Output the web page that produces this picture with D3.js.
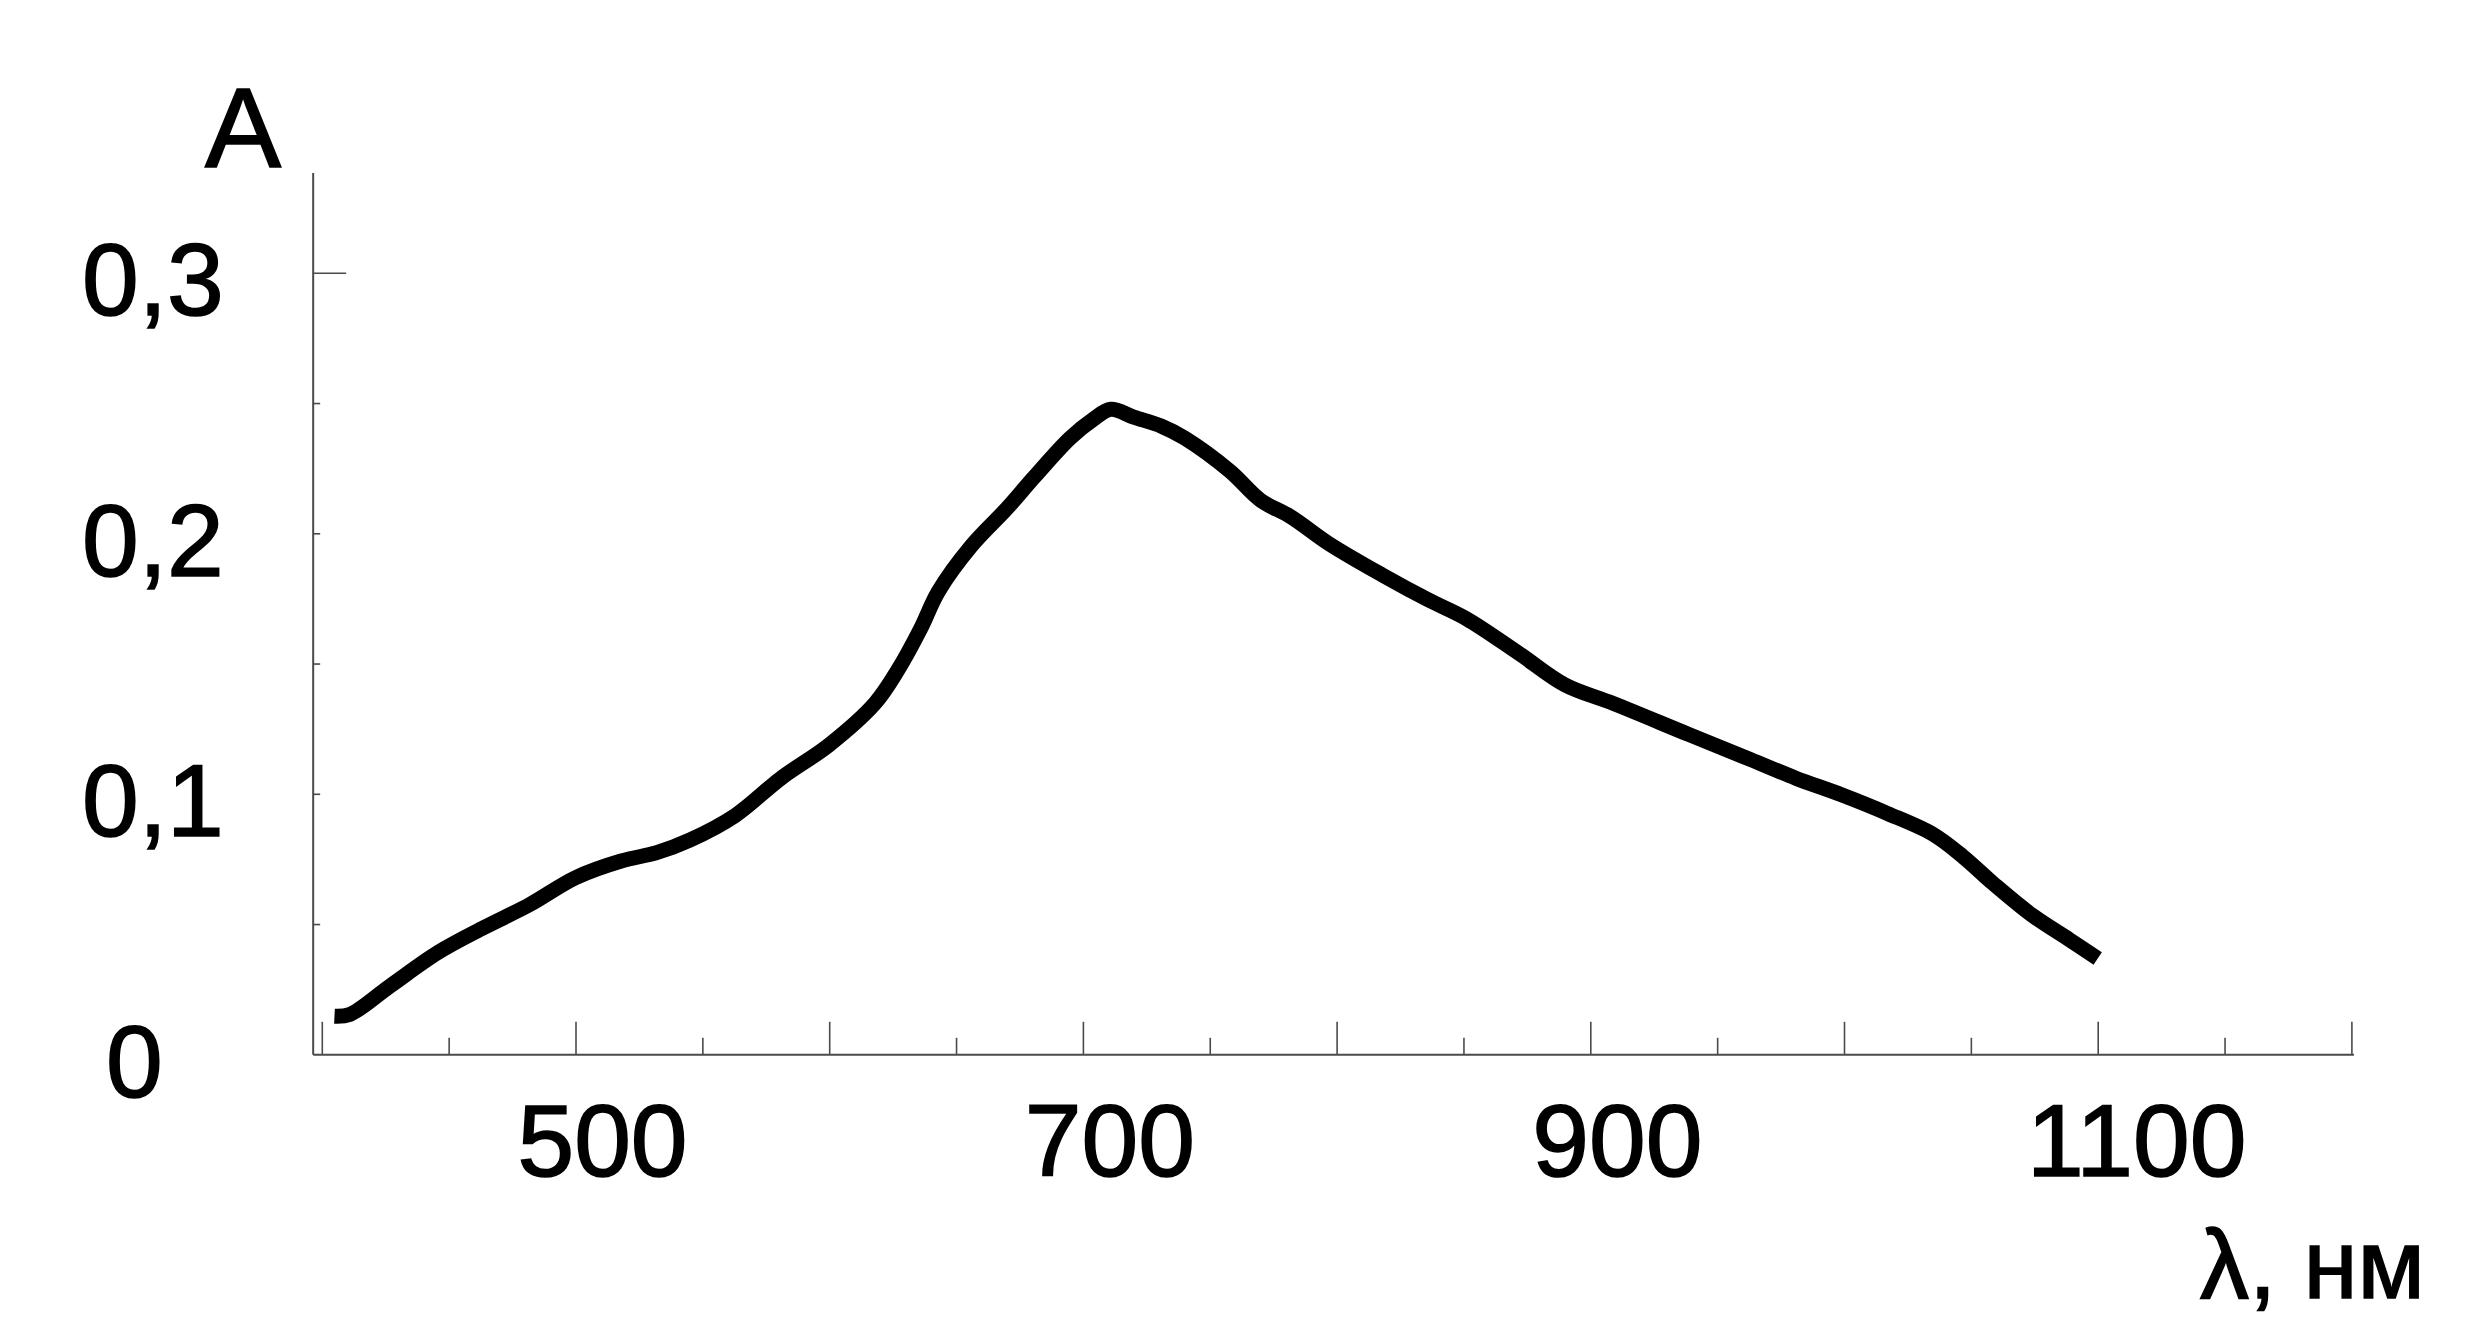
<!DOCTYPE html>
<html>
<head>
<meta charset="utf-8">
<script src="https://cdn.jsdelivr.net/npm/d3@7"></script>
<style>
  html, body { margin: 0; padding: 0; background: #fff; }
  svg { display: block; }
  text { font-family: "Liberation Sans", Arial, sans-serif; fill: #000; stroke: #000; stroke-width: 1.6px; }
</style>
</head>
<body>
<svg id="chart" width="2487" height="1337"></svg>
<script>
// ---- data ----
const wavelengths = [405, 411, 427, 446, 464, 482, 500, 518, 532, 545, 563, 581, 600, 618, 627, 636, 643, 656, 670, 681, 695, 704, 711, 720, 731, 740, 758, 770, 782, 797, 818, 836, 851, 872, 890, 909, 939, 963, 981, 999, 1017, 1035, 1047, 1059, 1074, 1089, 1100];
const absorbance  = [0.0148, 0.0155, 0.0265, 0.0394, 0.0489, 0.0577, 0.068, 0.0744, 0.0776, 0.0824, 0.0919, 0.1062, 0.119, 0.1349, 0.1476, 0.1635, 0.1778, 0.1953, 0.2097, 0.222, 0.2368, 0.2439, 0.2478, 0.2448, 0.2413, 0.2368, 0.224, 0.2129, 0.2065, 0.1962, 0.1842, 0.1747, 0.1675, 0.154, 0.142, 0.1349, 0.1229, 0.1134, 0.1062, 0.0998, 0.0927, 0.0847, 0.076, 0.0656, 0.0537, 0.0441, 0.037];
const xMajorTicks = [400, 500, 600, 700, 800, 900, 1000, 1100, 1200];
const xMinorTicks = [450, 550, 650, 750, 850, 950, 1050, 1150];
const xTickLabels = [500, 700, 900, 1100];
const yTicks = [0.05, 0.1, 0.15, 0.2, 0.25, 0.3];
const yTickLabels = [0, 0.1, 0.2, 0.3];
const xAxisTitle = "λ, нм";
const yAxisTitle = "A";

// ---- layout ----
const svg = d3.select("#chart");
const x = d3.scaleLinear().domain([500, 1200]).range([575.5, 2351.4]);
const y = d3.scaleLinear().domain([0, 0.3]).range([1054.8, 273.3]);
const xAxisDomain = [396.6, 1201];
const yAxisTop = 0.3385;
const axisColor = "#4a4a4a";
const fmt = v => v === 0 ? "0" : d3.format(".1f")(v).replace(".", ",");

// axis lines
svg.append("line")
  .attr("x1", x(xAxisDomain[0])).attr("x2", x(xAxisDomain[1]))
  .attr("y1", y(0)).attr("y2", y(0))
  .attr("stroke", axisColor).attr("stroke-width", 2);
svg.append("line")
  .attr("x1", x(xAxisDomain[0])).attr("x2", x(xAxisDomain[0]))
  .attr("y1", y(0)).attr("y2", y(yAxisTop))
  .attr("stroke", axisColor).attr("stroke-width", 2);

// x ticks (pointing up, inside)
const gx = svg.append("g").attr("transform", `translate(0,${y(0)})`);
gx.append("g").call(d3.axisBottom(x).tickValues(xMajorTicks).tickSizeInner(-33).tickSizeOuter(0).tickFormat(""));
gx.append("g").call(d3.axisBottom(x).tickValues(xMinorTicks).tickSizeInner(-17).tickSizeOuter(0).tickFormat(""));
gx.selectAll(".domain").remove();
gx.selectAll(".tick line").attr("stroke", axisColor).attr("stroke-width", 1.6);

// y ticks (pointing right, inside)
const gy = svg.append("g").attr("transform", `translate(${x(xAxisDomain[0])},0)`);
gy.selectAll("line.ytick").data(yTicks).enter().append("line")
  .attr("x1", 0).attr("x2", d => d === 0.3 ? 33 : 7)
  .attr("y1", d => y(d)).attr("y2", d => y(d))
  .attr("stroke", axisColor).attr("stroke-width", 1.6);

// x tick labels
svg.append("g").selectAll("text").data(xTickLabels).enter().append("text")
  .attr("x", d => x(d) + 27 + (String(d).length - 3) * 12)
  .attr("y", 1176)
  .attr("text-anchor", "middle")
  .attr("font-size", 102)
  .text(d => d);

// y tick labels
svg.append("g").selectAll("text").data(yTickLabels).enter().append("text")
  .attr("x", d => d === 0 ? 106 : 82)
  .attr("y", d => y(d) + 42)
  .attr("text-anchor", "start")
  .attr("font-size", 102)
  .text(fmt);

// axis titles
svg.append("text").attr("x", 205).attr("y", 167).attr("font-size", 114).text(yAxisTitle);
svg.append("text").attr("x", 2200).attr("y", 1298).attr("font-size", 98).text(xAxisTitle);

// curve
const line = d3.line()
  .x(d => x(d[0])).y(d => y(d[1]))
  .curve(d3.curveCatmullRom.alpha(0.5));
svg.append("path")
  .datum(wavelengths.map((w, i) => [w, absorbance[i]]))
  .attr("d", line)
  .attr("fill", "none")
  .attr("stroke", "#000")
  .attr("stroke-width", 15)
  .attr("stroke-linejoin", "round")
  .attr("stroke-linecap", "butt");
</script>
</body>
</html>
